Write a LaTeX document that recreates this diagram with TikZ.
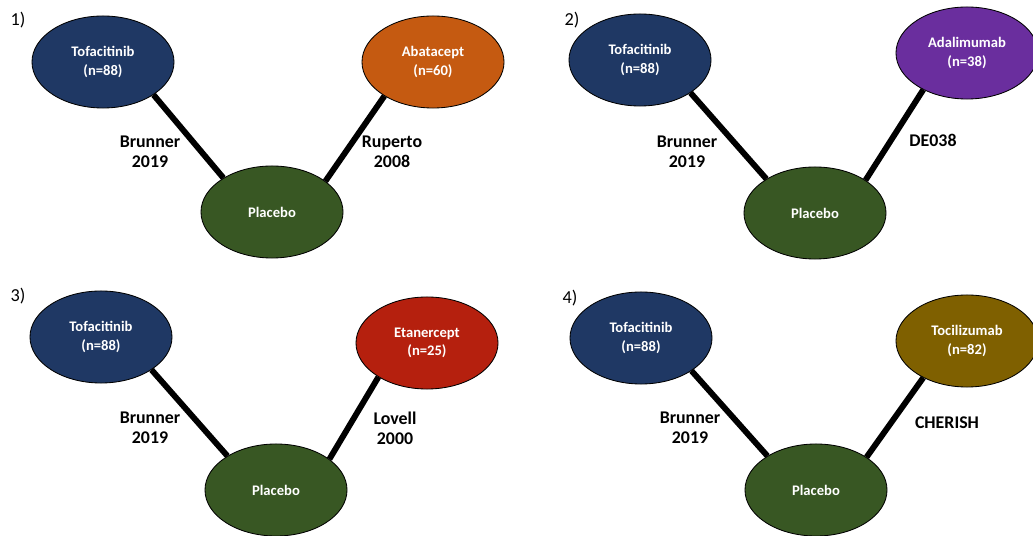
\documentclass[tikz,border=0pt]{standalone}
\usepackage{fontspec}
\setmainfont{Carlito}
\usetikzlibrary{shapes.geometric}

\definecolor{tofablue}{HTML}{1F3864}
\definecolor{placgreen}{HTML}{385723}
\definecolor{abaorange}{HTML}{C55A11}
\definecolor{adapurple}{HTML}{6A2E9E}
\definecolor{etared}{HTML}{B5200E}
\definecolor{tocigold}{HTML}{7F6000}

\tikzset{
  arm/.style={ellipse,draw=black,semithick,text=white,inner sep=0pt,
    minimum width=3.55cm,minimum height=2.3cm,align=center,
    font=\fontsize{10.4}{13}\selectfont\bfseries},
  trial/.style={align=center,font=\fontsize{12.7}{14.5}\selectfont\bfseries},
  panel/.style={font=\fontsize{13}{15}\selectfont},
  link/.style={line width=4.2pt,black}
}

\begin{document}
\begin{tikzpicture}[x=0.025cm,y=-0.025cm]
  \useasboundingbox (0,0) rectangle (1033,536);
  % 1) abatacept
  \node[panel] (num1) at (18,20) {1)};
  \node[arm,fill=tofablue] (tofa1) at (103,62) {Tofacitinib\\(n=88)};
  \node[arm,fill=abaorange] (comp1) at (433,62) {Abatacept\\(n=60)};
  \node[arm,fill=placgreen] (plac1) at (272,212) {Placebo};
  \draw[link] (tofa1.-33)--(plac1.145);
  \draw[link] (comp1.-145)--(plac1.30);
  \node[trial] (brun1) at (150,152) {Brunner\\2019};
  \node[trial] (rup1) at (392,152) {Ruperto\\2008};
  % 2) adalimumab
  \node[panel] (num2) at (572,20) {2)};
  \node[arm,fill=tofablue] (tofa2) at (640,60) {Tofacitinib\\(n=88)};
  \node[arm,fill=adapurple] (comp2) at (967,53) {Adalimumab\\(n=38)};
  \node[arm,fill=placgreen] (plac2) at (815,213) {Placebo};
  \draw[link] (tofa2.-33)--(plac2.145);
  \draw[link] (comp2.-140)--(plac2.33);
  \node[trial] (brun2) at (687,152) {Brunner\\2019};
  \node[trial] (de2) at (933,140) {DE038};
  % 3) etanercept
  \node[panel] (num3) at (18,296) {3)};
  \node[arm,fill=tofablue] (tofa3) at (101,337) {Tofacitinib\\(n=88)};
  \node[arm,fill=etared] (comp3) at (427,343) {Etanercept\\(n=25)};
  \node[arm,fill=placgreen] (plac3) at (276,490) {Placebo};
  \draw[link] (tofa3.-33)--(plac3.145);
  \draw[link] (comp3.-145)--(plac3.30);
  \node[trial] (brun3) at (150,428) {Brunner\\2019};
  \node[trial] (lov3) at (395,428) {Lovell\\2000};
  % 4) tocilizumab
  \node[panel] (num4) at (570,298) {4)};
  \node[arm,fill=tofablue] (tofa4) at (641,338) {Tofacitinib\\(n=88)};
  \node[arm,fill=tocigold] (comp4) at (967,341) {Tocilizumab\\(n=82)};
  \node[arm,fill=placgreen] (plac4) at (816,490) {Placebo};
  \draw[link] (tofa4.-33)--(plac4.145);
  \draw[link] (comp4.-140)--(plac4.33);
  \node[trial] (brun4) at (690,428) {Brunner\\2019};
  \node[trial] (cher4) at (947,423) {CHERISH};
\end{tikzpicture}
\end{document}
